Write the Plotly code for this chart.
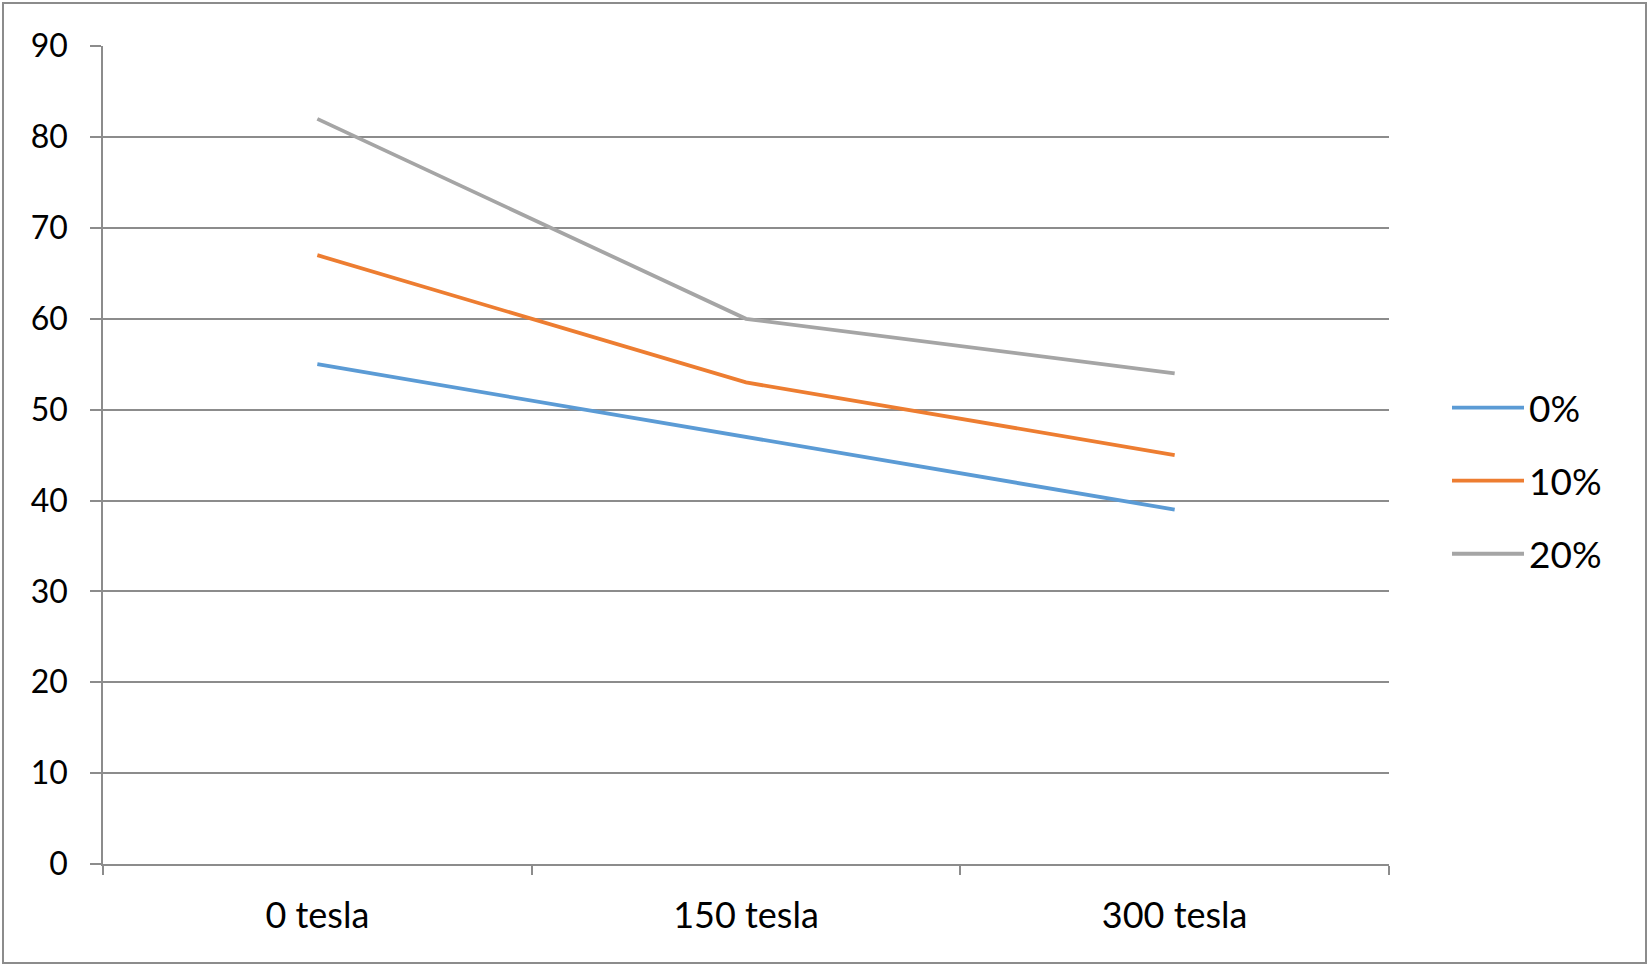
import plotly.graph_objects as go

categories = ["0 tesla", "150 tesla", "300 tesla"]
series_names = ["0%", "10%", "20%"]
values_0 = [55, 47, 39]
values_10 = [67, 53, 45]
values_20 = [82, 60, 54]
y_ticks = [0, 10, 20, 30, 40, 50, 60, 70, 80, 90]

colors = ["#5B9BD5", "#ED7D31", "#A5A5A5"]
FONT = "Lato"

fig = go.Figure()
for name, vals, col in zip(series_names, [values_0, values_10, values_20], colors):
    fig.add_trace(go.Scatter(
        x=categories, y=vals, name=name, mode="lines",
        line=dict(color=col, width=3.8),
        legendgroup=name,
    ))

L, R, T, B = 103, 1389, 46, 864
W, H = 1650, 967
pw, ph = R - L, B - T

fig.update_layout(
    width=W, height=H,
    margin=dict(l=L, r=W - R, t=T, b=H - B),
    paper_bgcolor="white", plot_bgcolor="white",
    font=dict(family=FONT, size=34, color="#000000"),
    showlegend=True,
    legend=dict(
        x=(1447 - L) / pw, xanchor="left",
        y=(B - 481) / ph, yanchor="middle",
        font=dict(family=FONT, size=37, color="#000000"),
        tracegroupgap=22,
        itemwidth=72,
        bgcolor="rgba(0,0,0,0)",
    ),
    xaxis=dict(
        type="category",
        range=[-0.5, 2.5],
        showgrid=False,
        showline=True, linecolor="#8C8C8C", linewidth=1.6,
        ticks="outside", ticklen=9, tickwidth=1.6, tickcolor="#8C8C8C",
        tickson="boundaries",
        ticklabelstandoff=19,
        tickfont=dict(family=FONT, size=36),
        zeroline=False,
    ),
    yaxis=dict(
        range=[0, 90.02],
        tickvals=y_ticks,
        showgrid=True, gridcolor="#8C8C8C", gridwidth=1.6,
        showline=True, linecolor="#8C8C8C", linewidth=1.6,
        ticks="outside", ticklen=11, tickwidth=1.6, tickcolor="#8C8C8C",
        ticklabelstandoff=16,
        tickfont=dict(family=FONT, size=32),
        zeroline=False,
    ),
)

# outer chart border
fig.add_shape(
    type="rect", xref="paper", yref="paper",
    x0=(3 - L) / pw, x1=(1646 - L) / pw,
    y0=(B - 963) / ph, y1=(B - 3) / ph,
    line=dict(color="#8C8C8C", width=2), fillcolor="rgba(0,0,0,0)",
    layer="below",
)

fig.write_html(
    "out.html",
    config={"displayModeBar": False},
    post_script="document.body.style.margin='0';document.body.style.overflow='hidden';",
)
